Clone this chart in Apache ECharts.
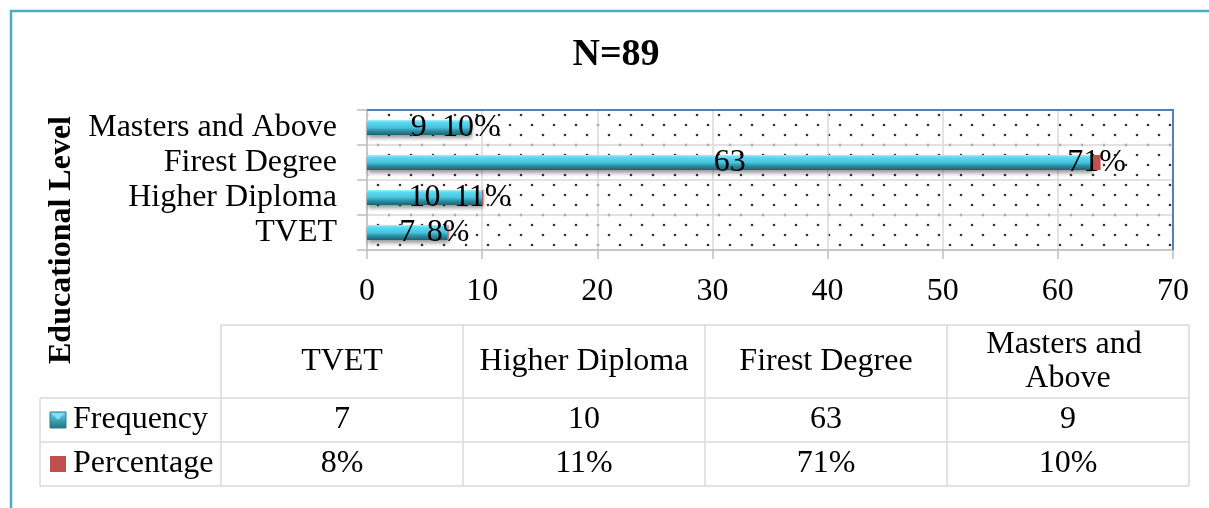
<!DOCTYPE html>
<html>
<head>
<meta charset="utf-8">
<script src="https://cdn.jsdelivr.net/npm/echarts@6/dist/echarts.min.js"></script>
<style>
  html, body { margin: 0; padding: 0; background: #ffffff; }
  #chart { width: 1209px; height: 508px; }
</style>
</head>
<body>
<div id="chart"></div>
<script>
// Respondents by educational level (N = 89)
const categories = ['TVET', 'Higher Diploma', 'Firest Degree', 'Masters and Above'];
const frequency = [7, 10, 63, 9];
const percentage = [8, 11, 71, 10];          // shown as "8%", stacked as 0.08 etc.
const seriesNames = ['Frequency', 'Percentage'];
const xMin = 0, xMax = 70, xStep = 10;
const titleText = 'N=89';
const axisTitle = 'Educational Level';

const serif = '"Liberation Serif", "Times New Roman", serif';
const cyanFill = {
  type: 'linear', x: 0, y: 0, x2: 0, y2: 1,
  colorStops: [
    { offset: 0, color: '#a6f0fb' },
    { offset: 0.15, color: '#5ddaf2' },
    { offset: 0.5, color: '#45c4de' },
    { offset: 0.72, color: '#2f8fa5' },
    { offset: 1, color: '#1d6172' }
  ]
};
const redFill = '#c0504d';

// plot rectangle (pixels)
const plot = { left: 367, right: 36, top: 110, bottom: 258 };
const W = 1209, H = 508;

// dotted fill for the plot area
const dots = document.createElement('canvas');
dots.width = 22; dots.height = 20;
(function () {
  const c = dots.getContext('2d');
  c.fillStyle = '#333333';
  c.beginPath(); c.arc(4, 5, 1.3, 0, Math.PI * 2); c.fill();
  c.beginPath(); c.arc(15, 15, 1.3, 0, Math.PI * 2); c.fill();
})();

// data table under the chart
const tbl = { left: 40, first: 221, colW: 242, rows: [325, 398, 442, 486] };
const lineColor = '#d9d9d9';
const tableFont = '32px ' + serif;
function tableGraphics() {
  const g = [];
  const right = tbl.first + tbl.colW * categories.length;
  const line = (x1, y1, x2, y2) => g.push({
    type: 'line', shape: { x1, y1, x2, y2 },
    style: { stroke: lineColor, lineWidth: 1.5 }, silent: true
  });
  line(tbl.first, tbl.rows[0], right, tbl.rows[0]);
  for (let r = 1; r < tbl.rows.length; r++) line(tbl.left, tbl.rows[r], right, tbl.rows[r]);
  for (let c = 0; c <= categories.length; c++) {
    const x = tbl.first + c * tbl.colW;
    line(x, tbl.rows[0], x, tbl.rows[3]);
  }
  line(tbl.left, tbl.rows[1], tbl.left, tbl.rows[3]);

  const cellText = (text, cx, cy) => g.push({
    type: 'text', x: cx, y: cy, silent: true,
    style: {
      text, fill: '#000', font: tableFont,
      align: 'center', verticalAlign: 'middle',
      width: 225, overflow: 'break', lineHeight: 34
    }
  });
  const rowValues = [frequency.map(String), percentage.map(v => v + '%')];
  categories.forEach((name, i) => {
    const cx = tbl.first + tbl.colW * (i + 0.5);
    cellText(name, cx, (tbl.rows[0] + tbl.rows[1]) / 2);
    rowValues.forEach((vals, r) => {
      cellText(vals[i], cx, (tbl.rows[r + 1] + tbl.rows[r + 2]) / 2);
    });
  });

  // legend keys + row names
  seriesNames.forEach((name, r) => {
    const cy = (tbl.rows[r + 1] + tbl.rows[r + 2]) / 2;
    g.push({
      type: 'rect', shape: { x: 50, y: cy - 8, width: 16, height: 16 }, silent: true,
      style: r === 0
        ? { fill: { type: 'linear', x: 0, y: 0, x2: 0, y2: 1,
                    colorStops: [{ offset: 0, color: '#5fd8ef' }, { offset: 1, color: '#236f80' }] },
            stroke: '#2b7f91', lineWidth: 1 }
        : { fill: redFill }
    });
    if (r === 0) {
      g.push({
        type: 'polygon', silent: true,
        shape: { points: [[51, cy - 7], [65, cy - 7], [58, cy]] },
        style: { fill: '#7fe3f5' }
      });
    }
    g.push({
      type: 'text', x: 73, y: cy, silent: true,
      style: { text: name, fill: '#000', font: tableFont, align: 'left', verticalAlign: 'middle' }
    });
  });
  return g;
}

const chart = echarts.init(document.getElementById('chart'), null, { renderer: 'canvas' });
chart.setOption({
  backgroundColor: '#ffffff',
  animation: false,
  title: {
    text: titleText, left: 611, top: 31, textAlign: 'center',
    textStyle: { fontFamily: serif, fontSize: 38, fontWeight: 'bold', color: '#000' }
  },
  grid: {
    left: plot.left, right: plot.right, top: plot.top, bottom: plot.bottom,
    show: true,
    backgroundColor: { image: dots, repeat: 'repeat' },
    borderWidth: 0,
    outerBoundsMode: 'none', containLabel: false
  },
  xAxis: {
    type: 'value', min: xMin, max: xMax, interval: xStep,
    axisLine: { show: true, lineStyle: { color: '#bfbfbf', width: 1.5 } },
    axisTick: { show: true, inside: false, length: 9, lineStyle: { color: '#bfbfbf', width: 1.5 } },
    splitLine: { show: true, lineStyle: { color: '#d9d9d9', width: 1.5 } },
    axisLabel: { margin: 26, color: '#000', fontFamily: serif, fontSize: 32 }
  },
  yAxis: {
    type: 'category', data: categories,
    axisLine: { show: true, lineStyle: { color: '#bfbfbf', width: 1.5 } },
    axisTick: { show: true, inside: false, length: 10, alignWithLabel: false, interval: 0,
                lineStyle: { color: '#bfbfbf', width: 1.5 } },
    splitLine: { show: true, interval: 0, lineStyle: { color: '#d9d9d9', width: 1.5 } },
    axisLabel: { interval: 0, margin: 30, color: '#000', fontFamily: serif, fontSize: 32 }
  },
  series: [
    {
      name: seriesNames[0], type: 'bar', stack: 'level', barWidth: 15,
      data: frequency,
      itemStyle: {
        color: cyanFill,
        shadowColor: 'rgba(0,0,0,0.4)', shadowBlur: 4, shadowOffsetX: 1, shadowOffsetY: 3
      },
      label: {
        show: true, position: 'inside', color: '#000', fontFamily: serif, fontSize: 32,
        textBorderWidth: 0
      }
    },
    {
      name: seriesNames[1], type: 'bar', stack: 'level', barWidth: 15,
      data: percentage.map(v => v / 100),
      itemStyle: { color: redFill },
      label: {
        show: true, position: 'inside', color: '#000', fontFamily: serif, fontSize: 32,
        textBorderWidth: 0,
        formatter: p => percentage[p.dataIndex] + '%'
      }
    }
  ],
  graphic: [
    {
      type: 'rect', silent: true, z: -10,
      shape: { x: 11, y: 11, width: 1400, height: 700 },
      style: { fill: 'none', stroke: '#4bacc6', lineWidth: 2.5 }
    },
    {
      // blue frame on the top and right of the plot area
      type: 'polyline', silent: true, z: 50,
      shape: { points: [[plot.left, plot.top], [W - plot.right, plot.top], [W - plot.right, H - plot.bottom]] },
      style: { fill: 'none', stroke: '#4f81bd', lineWidth: 2 }
    },
    {
      type: 'text', silent: true, x: 62, y: 240, rotation: Math.PI / 2,
      style: {
        text: axisTitle, fill: '#000', font: 'bold 32px ' + serif,
        align: 'center', verticalAlign: 'middle'
      }
    }
  ].concat(tableGraphics())
});
</script>
</body>
</html>
